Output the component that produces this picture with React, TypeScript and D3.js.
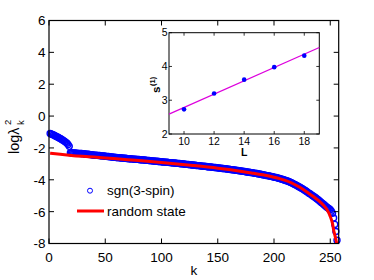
import React from 'react';
import * as d3 from 'd3';

// ---- data ----
const xTicks = [0, 50, 100, 150, 200, 250];
const yTicks = [6, 4, 2, 0, -2, -4, -6, -8];

// sgn(3-spin): log lambda_k^2 for k = 1..256
const blueVals = [
  -1.09, -1.12, -1.15, -1.19, -1.22, -1.26, -1.30, -1.33, -1.37, -1.41,
  -1.45, -1.50, -1.54, -1.59, -1.65, -1.71, -1.79, -1.90,
  -2.30, -2.31, -2.31, -2.32, -2.32, -2.33, -2.33, -2.34, -2.34, -2.35, -2.35, -2.36,
  -2.37, -2.38, -2.39, -2.40, -2.40, -2.41, -2.42, -2.43, -2.44, -2.45,
  -2.46, -2.46, -2.47, -2.48, -2.48, -2.49, -2.50, -2.50, -2.51, -2.52,
  -2.53, -2.54, -2.54, -2.55, -2.56, -2.57, -2.58, -2.58, -2.59, -2.60,
  -2.61, -2.61, -2.62, -2.63, -2.63, -2.64, -2.65, -2.65, -2.66, -2.67,
  -2.68, -2.68, -2.69, -2.69, -2.70, -2.71, -2.71, -2.72, -2.72, -2.73,
  -2.74, -2.74, -2.75, -2.76, -2.76, -2.77, -2.78, -2.78, -2.79, -2.80,
  -2.81, -2.81, -2.82, -2.83, -2.83, -2.84, -2.85, -2.85, -2.86, -2.87,
  -2.88, -2.88, -2.89, -2.90, -2.90, -2.91, -2.92, -2.92, -2.93, -2.94,
  -2.95, -2.95, -2.96, -2.97, -2.97, -2.98, -2.99, -2.99, -3.00, -3.01,
  -3.02, -3.03, -3.03, -3.04, -3.05, -3.06, -3.07, -3.07, -3.08, -3.09,
  -3.10, -3.11, -3.11, -3.12, -3.13, -3.14, -3.15, -3.15, -3.16, -3.17,
  -3.18, -3.19, -3.19, -3.20, -3.21, -3.22, -3.23, -3.23, -3.24, -3.25,
  -3.26, -3.27, -3.28, -3.29, -3.29, -3.30, -3.31, -3.32, -3.33, -3.34,
  -3.35, -3.36, -3.37, -3.38, -3.39, -3.40, -3.41, -3.42, -3.43, -3.44,
  -3.45, -3.46, -3.47, -3.48, -3.50, -3.51, -3.52, -3.53, -3.54, -3.55,
  -3.56, -3.58, -3.59, -3.60, -3.61, -3.63, -3.64, -3.65, -3.67, -3.68,
  -3.69, -3.71, -3.72, -3.74, -3.75, -3.77, -3.78, -3.80, -3.81, -3.83,
  -3.85, -3.86, -3.88, -3.90, -3.92, -3.94, -3.96, -3.98, -4.01, -4.03,
  -4.06, -4.08, -4.11, -4.14, -4.17, -4.20, -4.24, -4.28, -4.31, -4.35,
  -4.39, -4.43, -4.47, -4.51, -4.55, -4.60, -4.64, -4.69, -4.74, -4.79,
  -4.84, -4.88, -4.93, -4.98, -5.03, -5.08, -5.13, -5.19, -5.24, -5.30,
  -5.36, -5.42, -5.48, -5.54, -5.60, -5.66, -5.72, -5.77, -5.82, -5.88,
  -5.97, -6.10, -6.40, -6.80, -7.25, -7.80,
];
const blueK = d3.range(1, blueVals.length + 1);

// random state curve
const redK = [1, 10, 20, 35, 50, 70, 85, 100, 128, 150, 160, 170, 180, 190, 200, 205, 210, 215, 220, 225, 230, 235, 240, 244, 247, 250, 252, 253, 254, 255, 256];
const redVals = [-2.33, -2.40, -2.47, -2.55, -2.63, -2.74, -2.82, -2.91, -3.10, -3.27, -3.36, -3.46, -3.57, -3.69, -3.84, -3.93, -4.04, -4.18, -4.36, -4.56, -4.80, -5.05, -5.33, -5.60, -5.86, -6.30, -6.75, -7.15, -7.45, -7.75, -8.10];

// inset
const insetL = [10, 12, 14, 16, 18];
const insetS = [2.73, 3.20, 3.61, 3.98, 4.32];
const fitL = [9, 19];
const fitS = [2.59, 4.56];
const insetXTicks = [10, 12, 14, 16, 18];
const insetYTicks = [2, 3, 4, 5];

const legendLabels = ['sgn(3-spin)', 'random state'];

const FONT = '"Liberation Sans", Arial, Helvetica, sans-serif';

export default function App() {
  const W = 374, H = 280;
  const x = d3.scaleLinear().domain([0, 257.5]).range([49, 338.7]);
  const y = d3.scaleLinear().domain([-8, 6]).range([243.5, 20.5]);
  const [x0, x1] = x.range();
  const [yb, yt] = y.range();

  const ix = d3.scaleLinear().domain([9, 19]).range([169, 319.3]);
  const iy = d3.scaleLinear().domain([2, 5]).range([134, 32.7]);
  const [ix0, ix1] = ix.range();
  const [iyb, iyt] = iy.range();

  const redLine = d3.line<number>()
    .x((_, i) => x(redK[i]))
    .y((d) => y(d))
    .curve(d3.curveMonotoneX)(redVals) || '';

  const fitLine = d3.line<number>()
    .x((_, i) => ix(fitL[i]))
    .y((d) => iy(d))(fitS) || '';

  const fs = 13.5;
  const tl = 5;
  const itl = 3;
  const ifs = 10.5;

  return (
    <svg width={W} height={H} style={{ position: 'absolute', left: 0, top: 0, background: '#fff' }} fontFamily={FONT}>
      <rect x={0} y={0} width={W} height={H} fill="#fff" />
      <defs>
        <clipPath id="plotclip">
          <rect x={x0} y={yt} width={x1 - x0} height={yb - yt} />
        </clipPath>
      </defs>

      {/* blue circles */}
      <g fill="none" stroke="#0000ff" strokeWidth={1.4}>
        {blueVals.map((v, i) => (
          <circle key={i} cx={x(blueK[i])} cy={y(v)} r={3} />
        ))}
      </g>
      {/* red line */}
      <path d={redLine} fill="none" stroke="#ff0000" strokeWidth={3} clipPath="url(#plotclip)" />

      {/* axes box */}
      <rect x={x0} y={yt} width={x1 - x0} height={yb - yt} fill="none" stroke="#000" strokeWidth={1.2} />
      {xTicks.map((t) => (
        <g key={'xt' + t}>
          <line x1={x(t)} x2={x(t)} y1={yb} y2={yb - tl} stroke="#000" strokeWidth={1} />
          <line x1={x(t)} x2={x(t)} y1={yt} y2={yt + tl} stroke="#000" strokeWidth={1} />
          <text x={x(t)} y={261.5} fontSize={fs} textAnchor="middle" fill="#000">{t}</text>
        </g>
      ))}
      {yTicks.map((t) => (
        <g key={'yt' + t}>
          <line x1={x0} x2={x0 + tl} y1={y(t)} y2={y(t)} stroke="#000" strokeWidth={1} />
          <line x1={x1} x2={x1 - tl} y1={y(t)} y2={y(t)} stroke="#000" strokeWidth={1} />
          <text x={45.5} y={y(t) + 0.36 * fs} fontSize={fs} textAnchor="end" fill="#000">{t < 0 ? '-' + Math.abs(t) : String(t)}</text>
        </g>
      ))}
      <text x={(x0 + x1) / 2} y={275} fontSize={fs} textAnchor="middle" fill="#000">k</text>
      <g transform="translate(18.5,154) rotate(-90)">
        <text x={0} y={0} fontSize={14.5} fill="#000">logλ</text>
        <text x={29} y={-8} fontSize={9.5} fill="#000">2</text>
        <text x={29} y={5} fontSize={9.5} fill="#000">k</text>
      </g>

      {/* legend */}
      <circle cx={90} cy={190.7} r={2.5} fill="none" stroke="#0000ff" strokeWidth={1} />
      <text x={107} y={195} fontSize={fs} fill="#000">{legendLabels[0]}</text>
      <line x1={77} x2={104} y1={211} y2={211} stroke="#ff0000" strokeWidth={3} />
      <text x={107} y={215.5} fontSize={fs} fill="#000">{legendLabels[1]}</text>

      {/* inset */}
      <rect x={ix0} y={iyt} width={ix1 - ix0} height={iyb - iyt} fill="#fff" stroke="#000" strokeWidth={1} />
      {insetXTicks.map((t) => (
        <g key={'ixt' + t}>
          <line x1={ix(t)} x2={ix(t)} y1={iyb} y2={iyb - itl} stroke="#000" strokeWidth={0.8} />
          <line x1={ix(t)} x2={ix(t)} y1={iyt} y2={iyt + itl} stroke="#000" strokeWidth={0.8} />
          <text x={ix(t)} y={144.5} fontSize={ifs} textAnchor="middle" fill="#000">{t}</text>
        </g>
      ))}
      {insetYTicks.map((t) => (
        <g key={'iyt' + t}>
          <line x1={ix0} x2={ix0 + itl} y1={iy(t)} y2={iy(t)} stroke="#000" strokeWidth={0.8} />
          <line x1={ix1} x2={ix1 - itl} y1={iy(t)} y2={iy(t)} stroke="#000" strokeWidth={0.8} />
          <text x={167.5} y={iy(t) + 0.36 * ifs} fontSize={ifs} textAnchor="end" fill="#000">{t}</text>
        </g>
      ))}
      <path d={fitLine} fill="none" stroke="#dd00dd" strokeWidth={1.2} />
      <g fill="#0000ff">
        {insetS.map((v, i) => (
          <circle key={i} cx={ix(insetL[i])} cy={iy(v)} r={2.3} />
        ))}
      </g>
      <text x={(ix0 + ix1) / 2} y={155.5} fontSize={10.5} fontWeight="bold" textAnchor="middle" fill="#000">L</text>
      <g transform="translate(160,93) rotate(-90)">
        <text x={0} y={0} fontSize={11.5} fontWeight="bold" fill="#000">s</text>
        <text x={7} y={-5} fontSize={7.5} fontWeight="bold" fill="#000">(1)</text>
      </g>
    </svg>
  );
}
